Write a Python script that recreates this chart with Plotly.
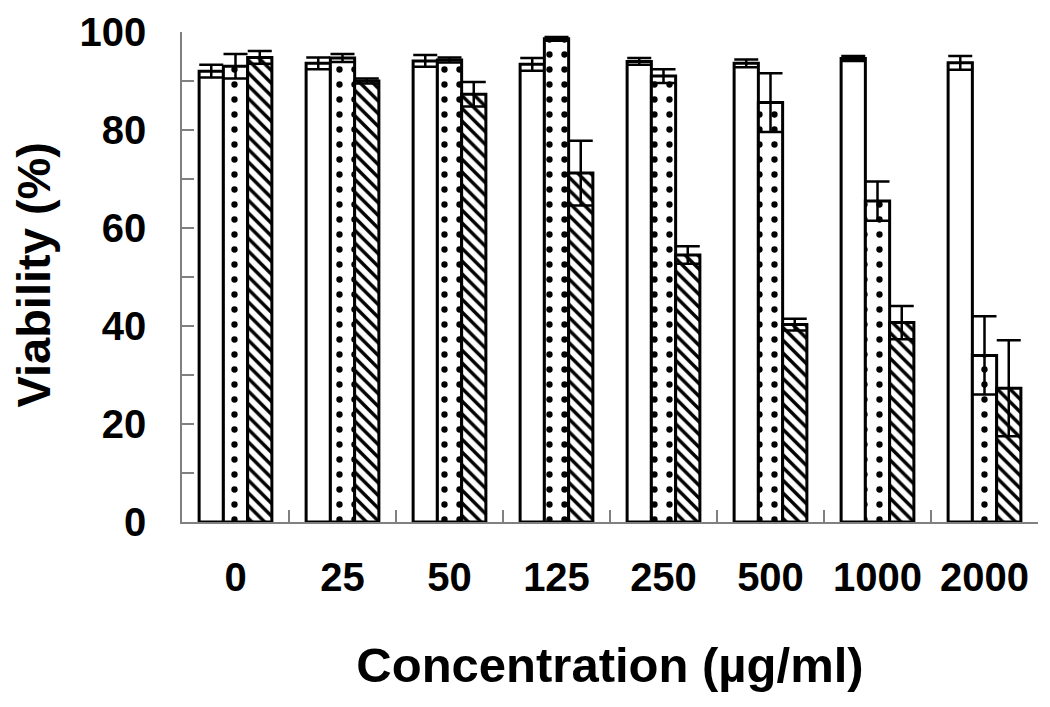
import plotly.graph_objects as go

categories = ["0", "25", "50", "125", "250", "500", "1000", "2000"]
control = [92.0, 93.6, 94.1, 93.4, 94.0, 93.6, 94.6, 93.7]
control_err = [1.3, 1.2, 1.2, 1.3, 0.7, 0.8, 0.5, 1.4]
dotted = [93.0, 94.7, 94.3, 98.6, 91.0, 85.6, 65.5, 34.0]
dotted_err = [2.5, 0.8, 0.5, 0.4, 1.4, 6.0, 4.0, 8.0]
hatched = [94.8, 90.0, 87.3, 71.2, 54.5, 40.3, 40.7, 27.3]
hatched_err = [1.3, 0.5, 2.5, 6.6, 1.8, 1.2, 3.4, 9.8]

y_tickvals = list(range(0, 101, 10))
y_ticktext = [str(v) if v % 20 == 0 else "" for v in y_tickvals]

FONT = "Liberation Sans, Arial, sans-serif"

def err(arr):
    return dict(type="data", array=arr, symmetric=True, color="black",
                thickness=2.5, width=12)

fig = go.Figure()
fig.add_trace(go.Bar(x=categories, y=control, error_y=err(control_err),
                     marker=dict(color="white", line=dict(color="black", width=3))))
fig.add_trace(go.Bar(x=categories, y=dotted, error_y=err(dotted_err),
                     marker=dict(color="white", line=dict(color="black", width=3),
                                 pattern=dict(shape=".", fgcolor="black", bgcolor="white",
                                              fgopacity=1, size=15, solidity=0.14,
                                              fillmode="replace"))))
fig.add_trace(go.Bar(x=categories, y=hatched, error_y=err(hatched_err),
                     marker=dict(color="white", line=dict(color="black", width=3),
                                 pattern=dict(shape="\\", fgcolor="black", bgcolor="white",
                                              fgopacity=1, size=9, solidity=0.38,
                                              fillmode="replace"))))

fig.update_layout(
    width=1050, height=707,
    margin=dict(l=174, r=20, t=24, b=193),
    barmode="group", bargap=0.32, bargroupgap=0,
    showlegend=False,
    plot_bgcolor="white", paper_bgcolor="white",
    font=dict(family=FONT, color="black"),
    annotations=[dict(text="Viability (%)", textangle=-90, showarrow=False,
                      xref="paper", yref="paper", x=0, y=0.505,
                      xanchor="center", yanchor="middle", xshift=-148,
                      font=dict(size=47, family=FONT, weight="bold", color="black"))],
)
fig.update_xaxes(
    type="category", showline=True, linecolor="#808080", linewidth=1.5,
    ticks="inside", ticklen=12, tickcolor="#808080", tickwidth=1.5,
    tickson="boundaries", showgrid=False, automargin=False,
    tickfont=dict(size=40, family=FONT, weight="bold"),
    ticklabelstandoff=19,
    title=dict(text="Concentration (µg/ml)", font=dict(size=49, family=FONT, weight="bold"),
               standoff=50),
)
fig.update_yaxes(
    range=[0, 100], showline=True, linecolor="#808080", linewidth=1.5,
    ticks="inside", ticklen=12, tickcolor="#808080", tickwidth=1.5,
    tickvals=y_tickvals, ticktext=y_ticktext, showgrid=False, zeroline=False,
    automargin=False,
    tickfont=dict(size=40, family=FONT, weight="bold"),
    ticklabelstandoff=26,
)

fig.write_html("out.html")
